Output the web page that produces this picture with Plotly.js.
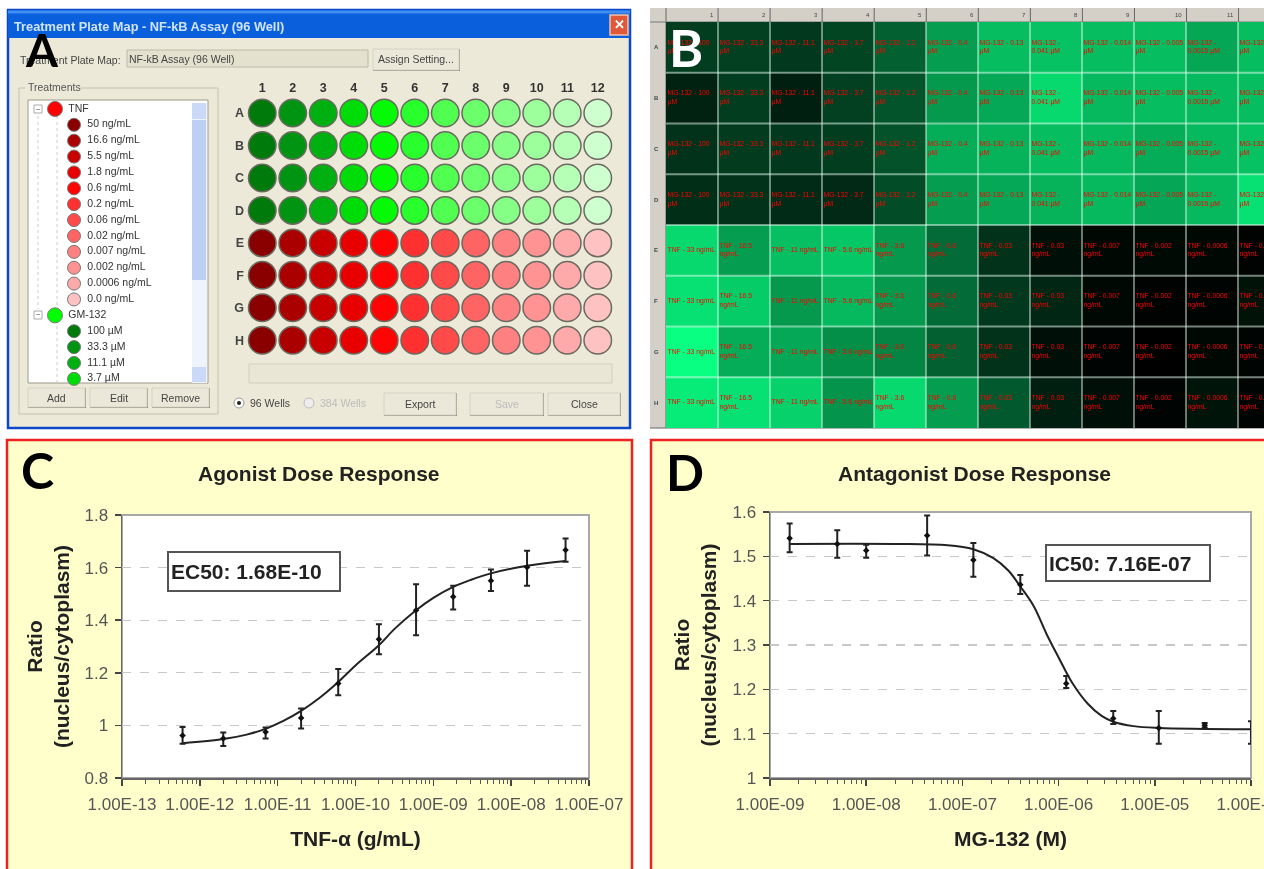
<!DOCTYPE html>
<html><head><meta charset="utf-8">
<script src="https://cdn.plot.ly/plotly-3.0.1.min.js"></script>
<style>html,body{margin:0;padding:0;background:#fff;overflow:hidden}#plot{width:1264px;height:869px;filter:blur(0.7px)}</style>
</head><body><div id="plot"></div>
<script>
// ---------- Panel A data ----------
const plateColumns=[1,2,3,4,5,6,7,8,9,10,11,12];
const plateRows=['A','B','C','D','E','F','G','H'];
const greenShades=['#007a0a','#009412','#00b010','#00dc08','#05fa05','#28ff2c','#50ff50','#6cff6c','#86ff86','#9cff9c','#b6ffb6','#ceffce'];
const redShades=['#8a0000','#aa0000','#c80000','#e80000','#ff0404','#ff3030','#ff4a4a','#ff6464','#ff8080','#ff9292','#ffaaaa','#ffc2c2'];
const tnfDoses=['50 ng/mL','16.6 ng/mL','5.5 ng/mL','1.8 ng/mL','0.6 ng/mL','0.2 ng/mL','0.06 ng/mL','0.02 ng/mL','0.007 ng/mL','0.002 ng/mL','0.0006 ng/mL','0.0 ng/mL'];
const mgDoses=['100 µM','33.3 µM','11.1 µM','3.7 µM'];
// ---------- Panel B data ----------
const heatValues=[
[.24,.25,.22,.27,.38,.62,.74,.76,.74,.74,.65,.74],
[.13,.24,.12,.25,.33,.60,.66,.85,.72,.74,.73,.74],
[.20,.23,.22,.24,.32,.68,.70,.74,.72,.68,.72,.76],
[.18,.20,.17,.16,.30,.62,.66,.70,.72,.65,.72,.88],
[.85,.62,.75,.78,.60,.42,.20,.06,.03,.04,.03,.01],
[.88,.80,.60,.72,.60,.42,.22,.15,.03,.01,.02,.07],
[1.0,.68,.66,.56,.52,.38,.20,.06,.02,.00,.03,.02],
[.92,.88,.82,.58,.85,.62,.35,.12,.06,.02,.08,.02]];
const mgCellLabels=['MG-132 - 100<br>µM','MG-132 - 33.3<br>µM','MG-132 - 11.1<br>µM','MG-132 - 3.7<br>µM','MG-132 - 1.2<br>µM','MG-132 - 0.4<br>µM','MG-132 - 0.13<br>µM','MG-132 -<br>0.041 µM','MG-132 - 0.014<br>µM','MG-132 - 0.005<br>µM','MG-132 -<br>0.0015 µM','MG-132 - 0.0<br>µM'];
const tnfCellLabels=['TNF - 33 ng/mL','TNF - 16.5<br>ng/mL','TNF - 11 ng/mL','TNF - 5.6 ng/mL','TNF - 3.6<br>ng/mL','TNF - 0.6<br>ng/mL','TNF - 0.03<br>ng/mL','TNF - 0.03<br>ng/mL','TNF - 0.007<br>ng/mL','TNF - 0.002<br>ng/mL','TNF - 0.0006<br>ng/mL','TNF - 0.0<br>ng/mL'];
// ---------- Panel C data ----------
const agonistDose=[6e-13,2e-12,7e-12,2e-11,6e-11,2e-10,6e-10,1.8e-9,5.5e-9,1.6e-8,5e-8];
const agonistMean=[.962,.950,.975,1.028,1.159,1.328,1.438,1.489,1.550,1.601,1.667];
const agonistUp=[.994,.973,.992,1.064,1.214,1.385,1.537,1.531,1.593,1.664,1.711];
const agonistLow=[.930,.922,.950,.988,1.115,1.271,1.343,1.441,1.511,1.531,1.622];
const agonistFitDose=[6e-13,2e-12,4e-12,7e-12,1.2e-11,2e-11,3.5e-11,6e-11,1e-10,2e-10,3.2e-10,6e-10,1e-9,1.8e-9,3e-9,5.5e-9,1.6e-8,5e-8];
const agonistFit=[.932,.948,.965,.987,1.018,1.055,1.106,1.165,1.228,1.305,1.368,1.438,1.485,1.527,1.553,1.578,1.607,1.625];
// ---------- Panel D data ----------
const antagonistDose=[1.6e-9,5e-9,1e-8,4.3e-8,1.3e-7,4e-7,1.2e-6,3.7e-6,1.1e-5,3.3e-5,1e-4];
const antagonistMean=[1.541,1.528,1.513,1.547,1.492,1.436,1.213,1.134,1.113,1.119,1.102];
const antagonistUp=[1.574,1.559,1.526,1.592,1.530,1.458,1.230,1.151,1.151,1.124,1.128];
const antagonistLow=[1.509,1.497,1.497,1.502,1.454,1.415,1.203,1.122,1.077,1.114,1.077];
const antagonistFitDose=[1.6e-9,2e-8,7e-8,1.3e-7,2.1e-7,3e-7,4e-7,5.5e-7,7.6e-7,1e-6,1.4e-6,2e-6,2.8e-6,3.7e-6,6e-6,1.1e-5,1e-4];
const antagonistFit=[1.528,1.528,1.525,1.516,1.496,1.468,1.432,1.388,1.322,1.272,1.213,1.168,1.140,1.127,1.117,1.113,1.110];
const agonistTicks=[1e-13,1e-12,1e-11,1e-10,1e-9,1e-8,1e-7];
const agonistTickText=['1.00E-13','1.00E-12','1.00E-11','1.00E-10','1.00E-09','1.00E-08','1.00E-07'];
const antagonistTicks=[1e-9,1e-8,1e-7,1e-6,1e-5,1e-4];
const antagonistTickText=['1.00E-09','1.00E-08','1.00E-07','1.00E-06','1.00E-05','1.00E-04'];

const W=1264,H=869,SANS='"Liberation Sans",Arial,sans-serif',HEAD='Lato,sans-serif';
const px=x=>x/W, py=y=>1-y/H;
const shapes=[],anns=[];
function rect(x0,y0,x1,y1,fill,line,lw,layer){shapes.push({type:'rect',xref:'paper',yref:'paper',x0:px(x0),x1:px(x1),y0:py(y0),y1:py(y1),fillcolor:fill||'rgba(0,0,0,0)',line:{color:line||'rgba(0,0,0,0)',width:lw||0},layer:layer||'below'});}
function seg(x0,y0,x1,y1,c,lw,dash){shapes.push({type:'line',xref:'paper',yref:'paper',x0:px(x0),x1:px(x1),y0:py(y0),y1:py(y1),line:{color:c,width:lw||1,dash:dash||'solid'},layer:'below'});}
function txt(x,y,t,size,color,anchor,bold,family,angle){anns.push({xref:'paper',yref:'paper',x:px(x),y:py(y),text:bold?'<b>'+t+'</b>':t,showarrow:false,xanchor:anchor||'left',yanchor:'middle',font:{size:size,color:color||'#333',family:family||SANS},textangle:angle||0,borderpad:0,borderwidth:0});}
function button(x0,y0,x1,y1,label,color){rect(x0,y0,x1+1,y1+1,'#8f8c7e');rect(x0,y0,x1,y1,'#ebe8da','#d5d2c2',1);txt((x0+x1)/2,(y0+y1)/2,label,10.5,color||'#444','center');}

// ---- window A chrome
rect(8,10,630,428,'#ece9d8','#0d47c8',2.5);
rect(8,10,630,38,'#0a5fdc');
seg(8,12,630,12,'#3f8df2',3);
rect(610,15,628,35,'#e0583a','#f2c0a8',1.5);
txt(619,25,'✕',13,'#fff','center',true);
txt(14,26,'Treatment Plate Map - NF-kB Assay (96 Well)',12.8,'#cfe4ff','left',true);
txt(20,60,'Treatment Plate Map:',10.5,'#444');
rect(127,50,368,67,'#e4e1cf','#bdbaa8',1);
txt(129,59,'NF-kB Assay (96 Well)',10.5,'#444');
button(373,49,459,70,'Assign Setting...');
rect(19,88,218,414,'rgba(0,0,0,0)','#c4c1b0',1);
rect(25,82,81,93,'#ece9d8');
txt(28,87,'Treatments',10.5,'#555');
rect(28,100,208,383,'#ffffff','#9b9888',1);
rect(192,103,207,383,'#eef3fc');
rect(192,120,206,280,'#bcd0f4');
rect(192,103,206,119,'#c9d9f7');
rect(192,367,206,382,'#c9d9f7');
seg(38,116,38,309,'#ccc',1,'dot');seg(57,116,57,383,'#ccc',1,'dot');
rect(34,105,42,113,'#fff','#aaa',1);rect(34,311,42,319,'#fff','#aaa',1);
txt(38,109,'−',8,'#555','center');txt(38,315,'−',8,'#555','center');
button(28,388,85,407,'Add');button(90,388,147,407,'Edit');button(152,388,209,407,'Remove');
rect(249,364,612,383,'#e9e6d5','#d2cfbe',1);
shapes.push({type:'circle',xref:'paper',yref:'paper',x0:px(234),x1:px(244),y0:py(408),y1:py(398),fillcolor:'#fff',line:{color:'#999',width:1},layer:'below'});
shapes.push({type:'circle',xref:'paper',yref:'paper',x0:px(237),x1:px(241),y0:py(405),y1:py(401),fillcolor:'#222',line:{width:0},layer:'below'});
shapes.push({type:'circle',xref:'paper',yref:'paper',x0:px(304),x1:px(314),y0:py(408),y1:py(398),fillcolor:'#eee',line:{color:'#bbb',width:1},layer:'below'});
txt(250,403,'96 Wells',10.5,'#444');txt(320,403,'384 Wells',10.5,'#bbb');
button(384,393,456,415,'Export');button(470,393,543,415,'Save','#bbb');button(548,393,620,415,'Close');

// ---- panel B chrome
rect(650,8,1264,22,'#d4d0c8');
rect(650,8,666,428,'#d4d0c8');
seg(650,428,1264,428,'#666',1);
seg(666,8,666,428,'#666',1);
seg(650,22,1264,22,'#777',1);
plateColumns.forEach((c,i)=>{
  const xe=666+52.05*(i+1);
  if(xe<1264)seg(xe,8,xe,22,'#666',1);
  anns.push({xref:'x2',yref:'paper',x:i+.46,y:py(15),text:String(c),showarrow:false,xanchor:'right',yanchor:'middle',font:{size:6,color:'#444',family:SANS}});
});
plateRows.forEach((r,i)=>{
  anns.push({xref:'paper',yref:'y2',x:px(656),y:i,text:'<b>'+r+'</b>',showarrow:false,xanchor:'center',yanchor:'middle',font:{size:6,color:'#444',family:SANS}});
  if(i>0)shapes.push({type:'line',xref:'x2',yref:'y2',x0:-.5,x1:11,y0:i-.5,y1:i-.5,line:{color:'rgba(235,255,245,.5)',width:2},layer:'above'});
});
plateColumns.forEach((c,i)=>{if(i>0)shapes.push({type:'line',xref:'x2',yref:'y2',x0:i-.5,x1:i-.5,y0:-.5,y1:7.5,line:{color:'rgba(235,255,245,.45)',width:2},layer:'above'});});

// ---- panels C, D chrome
rect(7,440,632,880,'#ffffcc','#ee2222',2.5);
rect(651,440,1280,880,'#ffffcc','#ee2222',2.5);
rect(122,515,589,778,'#ffffff','#a8a8a8',2);
rect(770,512,1251,778,'#ffffff','#a8a8a8',2);
txt(319,473,'Agonist Dose Response',21,'#222','center',true);
txt(974,473,'Antagonist Dose Response',21,'#222','center',true);
anns.push({xref:'paper',yref:'paper',x:px(167),y:py(571),text:'<b>EC50: 1.68E-10</b>',showarrow:false,xanchor:'left',yanchor:'middle',width:166,height:33,align:'left',borderpad:2,bgcolor:'#fff',bordercolor:'#555',borderwidth:2,font:{size:21,color:'#222',family:SANS}});
anns.push({xref:'paper',yref:'paper',x:px(1045),y:py(563),text:'<b>IC50: 7.16E-07</b>',showarrow:false,xanchor:'left',yanchor:'middle',width:158,height:30,align:'left',borderpad:2,bgcolor:'#fff',bordercolor:'#555',borderwidth:2,font:{size:21,color:'#222',family:SANS}});

// ---- big panel letters
txt(42,49,'A',46,'#000','center',true,HEAD);
txt(686,47,'B',52,'#fff','center',true,HEAD);
txt(37,470,'C',50,'#000','center',true,HEAD);
txt(685,472,'D',50,'#000','center',true,HEAD);

// ---- traces
const traces=[];
const wellX=[],wellY=[],wellC=[];
plateRows.forEach((r,ri)=>plateColumns.forEach((c,ci)=>{wellX.push(c);wellY.push(r);wellC.push(ri<4?greenShades[ci]:redShades[ci]);}));
traces.push({type:'scatter',mode:'markers',x:wellX,y:wellY,xaxis:'x',yaxis:'y',marker:{size:27.5,color:wellC,line:{color:'#6a6a60',width:1.5}},hoverinfo:'skip'});

// treatment tree
const treeLabels=['TNF',...tnfDoses,'GM-132',...mgDoses];
const treeColors=['#ff0000',...redShades,'#00ff00',...greenShades.slice(0,4)];
const treeParent=treeLabels.map(l=>l==='TNF'||l==='GM-132');
const treeRow=treeLabels.map((l,i)=>i);
traces.push({type:'scatter',mode:'markers',x:treeParent.map(p=>p?0:1),y:treeRow,xaxis:'x3',yaxis:'y3',
  marker:{size:treeParent.map(p=>p?15:13),color:treeColors,opacity:1,line:{color:'#777',width:1}},hoverinfo:'skip',cliponaxis:false});
traces.push({type:'scatter',mode:'text',x:treeParent.map(p=>p?.7:1.7),y:treeRow,xaxis:'x3',yaxis:'y3',
  text:treeLabels,textposition:'middle right',textfont:{size:10.5,color:'#333',family:SANS},hoverinfo:'skip',cliponaxis:false});

// heatmap
traces.push({type:'heatmap',z:heatValues,xaxis:'x2',yaxis:'y2',showscale:false,zmin:0,zmax:1,colorscale:[[0,'#000000'],[1,'rgb(8,255,130)']],hoverinfo:'skip'});
const cx=[],cy=[],ct=[];
plateRows.forEach((r,ri)=>plateColumns.forEach((c,ci)=>{cx.push(ci-.47);cy.push(ri);ct.push(ri<4?mgCellLabels[ci]:tnfCellLabels[ci]);}));
traces.push({type:'scatter',mode:'text',x:cx,y:cy,text:ct,xaxis:'x2',yaxis:'y2',textposition:'middle right',textfont:{size:6.8,color:'#ff0000',family:SANS},hoverinfo:'skip'});

function doseTraces(xf,yf,x,m,u,l,ax,ay){
  traces.push({type:'scatter',mode:'lines',x:xf,y:yf,xaxis:ax,yaxis:ay,line:{color:'#222',width:2,shape:'spline',smoothing:1},hoverinfo:'skip',cliponaxis:false});
  traces.push({type:'scatter',mode:'markers',x:x,y:m,xaxis:ax,yaxis:ay,marker:{size:5,color:'#111',symbol:'diamond'},cliponaxis:false,
    error_y:{type:'data',symmetric:false,array:u.map((v,i)=>v-m[i]),arrayminus:l.map((v,i)=>m[i]-v),color:'#222',thickness:2,width:3},hoverinfo:'skip'});
}
doseTraces(agonistFitDose,agonistFit,agonistDose,agonistMean,agonistUp,agonistLow,'x4','y4');
doseTraces(antagonistFitDose,antagonistFit,antagonistDose,antagonistMean,antagonistUp,antagonistLow,'x5','y5');

const minorOf=ticks=>{const o=[];ticks.slice(0,-1).forEach(t=>{[2,3,4,5,6,7,8,9].forEach(k=>o.push(t*k));});return o;};
const hidden={visible:false,fixedrange:true};
function doseX(dom,range,vals,text,title,standoff){return {domain:dom,type:'log',range:range,tickmode:'array',tickvals:vals,ticktext:text,ticks:'outside',ticklen:6,tickwidth:1.5,tickcolor:'#444',ticklabeloverflow:'allow',ticklabelstandoff:4,
  tickfont:{size:17,color:'#555',family:SANS},showgrid:false,zeroline:false,showline:true,linecolor:'#666',linewidth:1.5,
  minor:{tickmode:'array',tickvals:minorOf(vals),ticks:'outside',ticklen:4,tickcolor:'#555',tickwidth:1,showgrid:false},
  title:{text:title,font:{size:21,color:'#222',family:SANS},standoff:standoff}};}
function doseY(dom,range,dt,anchor,standoff){return {domain:dom,anchor:anchor,range:range,dtick:dt,tick0:range[0],ticks:'outside',ticklen:6,tickwidth:1.5,tickcolor:'#444',ticklabelstandoff:3,
  tickfont:{size:17,color:'#555',family:SANS},showgrid:true,gridcolor:'#c8c8c8',griddash:'dash',gridwidth:1.2,zeroline:false,showline:true,linecolor:'#666',linewidth:1.5,
  title:{text:'<b>Ratio</b><br><b>(nucleus/cytoplasm)</b>',font:{size:21,color:'#222',family:SANS},standoff:standoff}};}

const layout={width:W,height:H,margin:{l:0,r:0,t:0,b:0},paper_bgcolor:'#fff',plot_bgcolor:'rgba(0,0,0,0)',showlegend:false,hovermode:false,shapes:shapes,annotations:anns,
  // wells
  xaxis:{domain:[px(247),px(613)],range:[.5,12.5],side:'top',anchor:'y',tickmode:'array',tickvals:plateColumns,ticktext:plateColumns.map(c=>'<b>'+c+'</b>'),ticks:'',showgrid:false,zeroline:false,showline:false,tickfont:{size:12.5,color:'#333',family:SANS},ticklabelstandoff:1,fixedrange:true},
  yaxis:{domain:[py(356.5),py(96.8)],type:'category',categoryorder:'array',categoryarray:plateRows,tickmode:'array',tickvals:plateRows,ticktext:plateRows.map(r=>'<b>'+r+'</b>'),range:[7.5,-.5],anchor:'x',ticks:'',showgrid:false,zeroline:false,showline:false,tickfont:{size:12.5,color:'#444',family:SANS},ticklabelstandoff:2,fixedrange:true},
  // heat map
  xaxis2:{domain:[px(666),1],range:[-.5,11],anchor:'y2',...hidden},
  yaxis2:{domain:[py(428),py(22)],range:[7.5,-.5],anchor:'x2',...hidden},
  // tree list
  xaxis3:{domain:[px(36),px(190)],range:[-1,7.1],anchor:'y3',...hidden},
  yaxis3:{domain:[py(386),py(101)],range:[17.45,-.5],anchor:'x3',...hidden},
  // dose response
  xaxis4:doseX([px(122),px(589)],[-13,-7],agonistTicks,agonistTickText,'<b>TNF-α (g/mL)</b>',18),
  yaxis4:doseY([py(778),py(515)],[.8,1.8],.2,'x4',9),
  xaxis5:doseX([px(770),px(1251)],[-9,-4],antagonistTicks,antagonistTickText,'<b>MG-132 (M)</b>',18),
  yaxis5:doseY([py(778),py(512)],[1,1.6],.1,'x5',10)
};
layout.xaxis4.anchor='y4';layout.xaxis5.anchor='y5';
Plotly.newPlot('plot',traces,layout,{displayModeBar:false,staticPlot:true});
</script></body></html>
